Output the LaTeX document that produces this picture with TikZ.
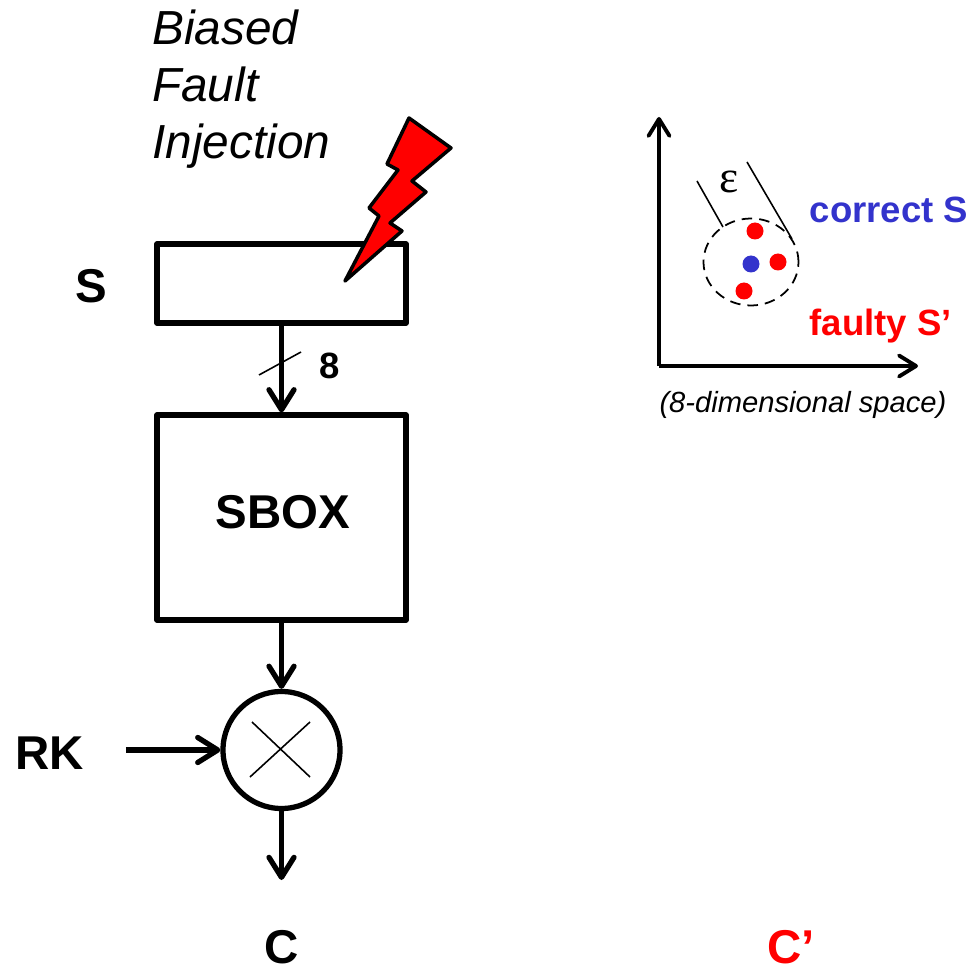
\documentclass[tikz,border=0pt]{standalone}
\usepackage{fontspec}
\setmainfont{Liberation Sans}
\newfontfamily\epsfont{Liberation Serif}
\usetikzlibrary{arrows.meta}
\definecolor{correctblue}{HTML}{3333CC}
\definecolor{faultyred}{HTML}{FF0000}
\tikzset{
    blockbox/.style={draw, line width=1.5pt, line join=round, inner sep=0},
    flow/.style={line width=1.5pt, -{Straight Barb[round, length=0.2cm, width=0.25cm, line width=1.5pt]}},
    axis/.style={line width=1.1pt, -{Straight Barb[round, length=0.17cm, width=0.21cm, line width=1.1pt]}},
    thinline/.style={line width=0.45pt},
    biglabel/.style={font=\fontsize{13.5}{16.2}\selectfont\bfseries, inner sep=0},
    midlabel/.style={font=\fontsize{10.4}{12}\selectfont\bfseries, inner sep=0},
    dot/.style={circle, inner sep=0, minimum size=0.17cm}
}
\begin{document}
\begin{tikzpicture}
    \useasboundingbox (0, 0) rectangle (9.72, 9.69);
    \node (title) [anchor=north west, align=left, inner sep=0, font=\fontsize{13.6}{16.2}\selectfont\itshape] at (1.515, 9.60) {Biased\\Fault\\Injection};
    \node (sreg) [blockbox, minimum width=2.49cm, minimum height=0.79cm] at (2.815, 6.855) {};
    \node (sbox) [blockbox, minimum width=2.49cm, minimum height=2.05cm] at (2.815, 4.515) {};
    \node (sboxtext) [biglabel] at (2.83, 4.57) {SBOX};
    \node (xor) [blockbox, circle, minimum size=1.17cm] at (2.815, 2.19) {};
    \node (slabel) [biglabel] at (0.91, 6.83) {S};
    \node (rk) [biglabel] at (0.495, 2.16) {RK};
    \node (c) [biglabel] at (2.82, 0.22) {C};
    \node (cfault) [biglabel, text=faultyred] at (7.91, 0.22) {C’};
    \node (width) [midlabel] at (3.30, 6.03) {8};
    \coordinate (rkin) at (1.26, 2.19);
    \coordinate (cout) at (2.815, 0.89);
    \draw [flow] (sreg.south) -- (sbox.north);
    \draw [flow] (sbox.south) -- (xor.north);
    \draw [flow] (rkin) -- (xor.west);
    \draw [flow] (xor.south) -- (cout);
    \draw [thinline] (2.59, 5.94) -- (3.01, 6.17);
    \draw [thinline] (2.50, 1.92) -- (3.10, 2.47) (3.10, 1.92) -- (2.52, 2.47);
    \draw [fill=red, line width=1pt, line join=round] (3.45, 6.88) -- (4.02, 7.38) -- (3.90, 7.46) -- (4.26, 7.77) -- (4.12, 7.88) -- (4.51, 8.21) -- (4.09, 8.51) -- (3.87, 8.05) -- (3.98, 7.99) -- (3.69, 7.61) -- (3.79, 7.53) -- cycle;
    \coordinate (origin) at (6.59, 6.03);
    \coordinate (ytip) at (6.59, 8.52);
    \coordinate (xtip) at (9.18, 6.03);
    \draw [axis] (origin) -- (ytip);
    \draw [axis] (origin) -- (xtip);
    \draw [dashed, line width=0.5pt, dash pattern=on 3pt off 2pt] (7.51, 7.07) circle [x radius=0.475, y radius=0.435];
    \draw [thinline] (6.97, 7.88) -- (7.23, 7.42);
    \draw [thinline] (7.47, 8.07) -- (7.92, 7.30);
    \node (eps) [inner sep=0, font=\fontsize{13}{14}\selectfont\epsfont] at (7.29, 7.87) {ε};
    \node (correct) [dot, fill=correctblue] at (7.51, 7.05) {};
    \node (faulta) [dot, fill=faultyred] at (7.55, 7.38) {};
    \node (faultb) [dot, fill=faultyred] at (7.78, 7.07) {};
    \node (faultc) [dot, fill=faultyred] at (7.44, 6.78) {};
    \node (correctlabel) [midlabel, text=correctblue, anchor=west] at (8.09, 7.59) {correct S};
    \node (faultylabel) [midlabel, text=faultyred, anchor=west] at (8.09, 6.43) {faulty S’};
    \node (space) [inner sep=0, font=\fontsize{8.3}{10}\selectfont\itshape] at (8.03, 5.64) {(8-dimensional space)};
\end{tikzpicture}
\end{document}
